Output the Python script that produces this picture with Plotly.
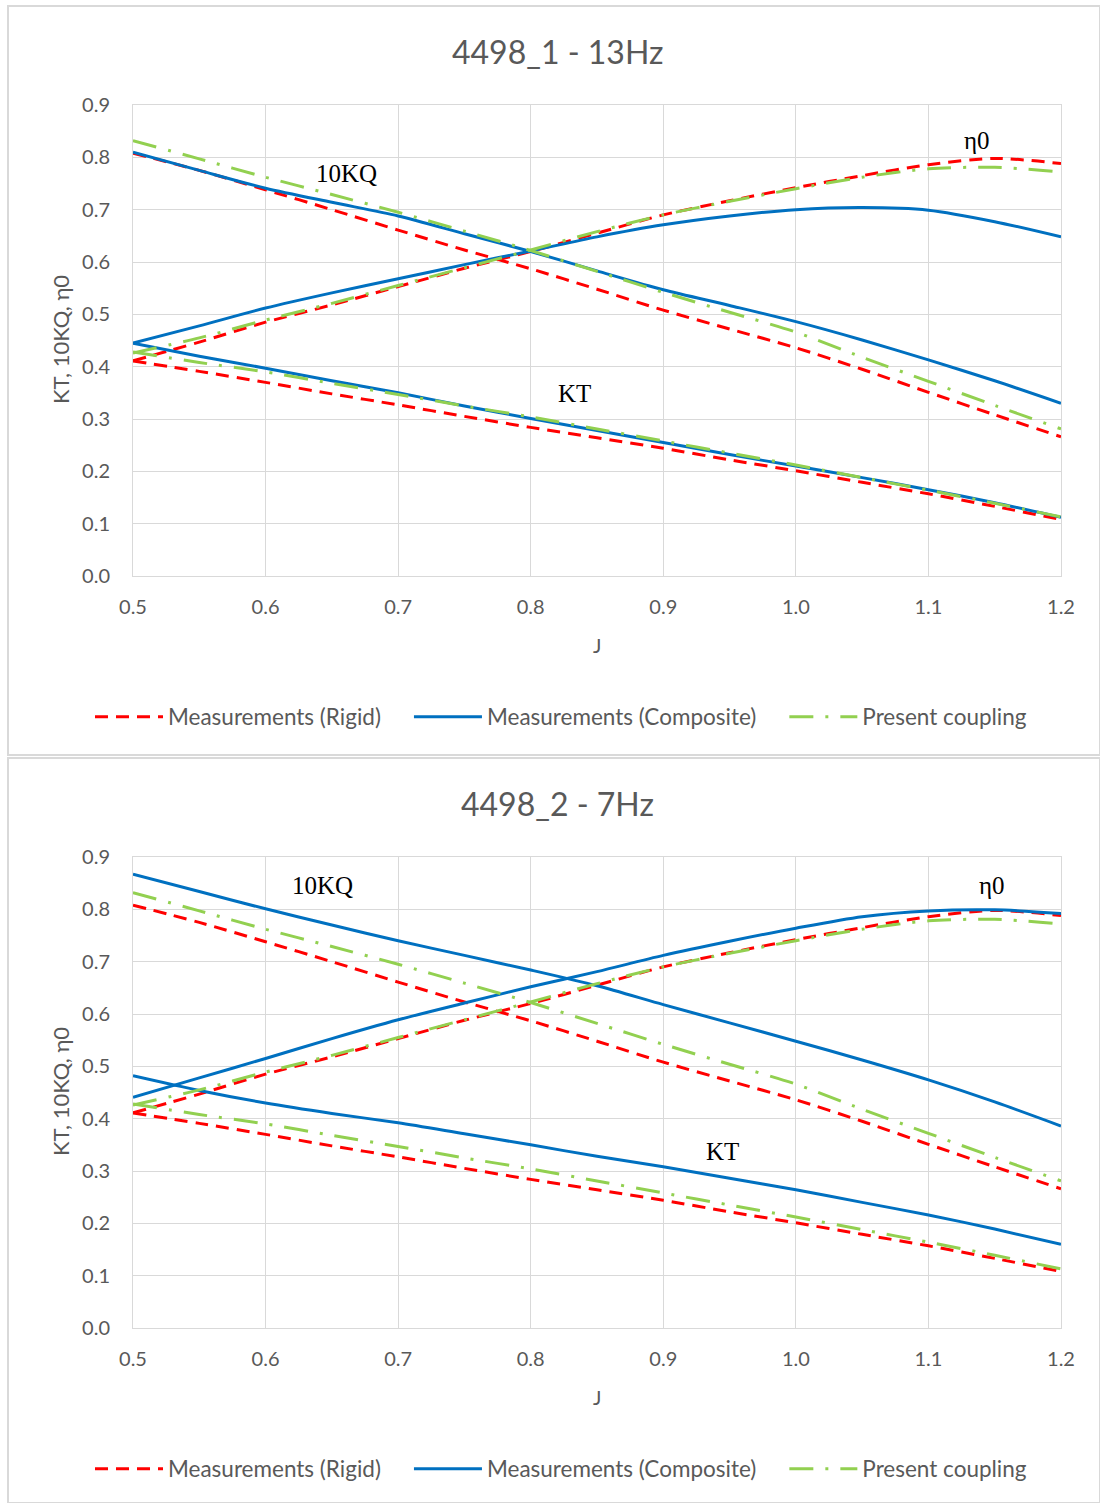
import plotly.graph_objects as go

J = [0.5, 0.55, 0.6, 0.65, 0.7, 0.75, 0.8, 0.85, 0.9, 0.95, 1.0, 1.05, 1.1, 1.15, 1.2]

# Measurements (Rigid) - same in both charts
rigid_10kq = [0.808, 0.775, 0.738, 0.700, 0.661, 0.623, 0.587, 0.548, 0.508, 0.472, 0.436, 0.395, 0.351, 0.308, 0.266]
rigid_eta = [0.411, 0.447, 0.485, 0.518, 0.553, 0.588, 0.620, 0.655, 0.690, 0.717, 0.742, 0.765, 0.786, 0.798, 0.788]
rigid_kt = [0.411, 0.391, 0.370, 0.348, 0.327, 0.305, 0.284, 0.264, 0.244, 0.222, 0.201, 0.179, 0.157, 0.133, 0.108]

# Present coupling - same in both charts
pc_10kq = [0.832, 0.797, 0.762, 0.729, 0.695, 0.659, 0.622, 0.582, 0.542, 0.504, 0.466, 0.418, 0.372, 0.326, 0.281]
pc_eta = [0.426, 0.455, 0.489, 0.521, 0.555, 0.589, 0.623, 0.658, 0.690, 0.716, 0.740, 0.762, 0.778, 0.781, 0.772]
pc_kt = [0.428, 0.408, 0.390, 0.368, 0.347, 0.325, 0.304, 0.281, 0.258, 0.235, 0.212, 0.188, 0.164, 0.139, 0.113]

# Measurements (Composite) - chart 1 (13Hz)
c1_10kq = [0.810, 0.775, 0.741, 0.714, 0.688, 0.654, 0.620, 0.583, 0.547, 0.517, 0.486, 0.451, 0.413, 0.373, 0.330]
c1_eta = [0.445, 0.478, 0.512, 0.541, 0.568, 0.595, 0.621, 0.648, 0.671, 0.688, 0.700, 0.704, 0.699, 0.677, 0.648]
c1_kt = [0.445, 0.420, 0.397, 0.373, 0.350, 0.325, 0.301, 0.278, 0.255, 0.232, 0.210, 0.188, 0.165, 0.140, 0.112]

# Measurements (Composite) - chart 2 (7Hz)
c2_10kq = [0.867, 0.834, 0.801, 0.770, 0.740, 0.712, 0.684, 0.654, 0.618, 0.583, 0.548, 0.512, 0.474, 0.432, 0.386]
c2_eta = [0.441, 0.478, 0.515, 0.553, 0.589, 0.621, 0.652, 0.681, 0.712, 0.739, 0.764, 0.786, 0.797, 0.799, 0.792]
c2_kt = [0.482, 0.454, 0.430, 0.410, 0.392, 0.371, 0.350, 0.328, 0.308, 0.286, 0.264, 0.240, 0.216, 0.189, 0.160]

titles = ["4498_1 - 13Hz", "4498_2 - 7Hz"]
series_names = ["Measurements (Rigid)", "Measurements (Composite)", "Present coupling"]
x_ticks = [0.5, 0.6, 0.7, 0.8, 0.9, 1.0, 1.1, 1.2]
y_ticks = [0.0, 0.1, 0.2, 0.3, 0.4, 0.5, 0.6, 0.7, 0.8, 0.9]

# curve label positions (J, value)
labels1 = [("10KQ", 0.661, 0.770), ("η0", 1.137, 0.833), ("KT", 0.833, 0.348)]
labels2 = [("10KQ", 0.643, 0.845), ("η0", 1.148, 0.845), ("KT", 0.945, 0.338)]

W, H = 1100, 1503
RED = "#FF0000"
BLUE = "#0070C0"
GREEN = "#92D050"
GRID = "#D9D9D9"
TXT = "#595959"
FONT = "Lato, Open Sans, sans-serif"

fig = go.Figure()

styles = [
    dict(color=RED, width=3, dash="13px,8px"),
    dict(color=BLUE, width=3, dash="solid"),
    dict(color=GREEN, width=3, dash="24px,12px,3px,12px"),
]

charts = [
    (c1_10kq, c1_eta, c1_kt, "x", "y", "legend"),
    (c2_10kq, c2_eta, c2_kt, "x2", "y2", "legend2"),
]

PAD = "\u00a0\u00a0\u00a0\u00a0"
for (ck, ce, ct, xa, ya, lg) in charts:
    groups = [
        (rigid_10kq, rigid_eta, rigid_kt),
        (ck, ce, ct),
        (pc_10kq, pc_eta, pc_kt),
    ]
    for gi, grp in enumerate(groups):
        for si, vals in enumerate(grp):
            fig.add_trace(go.Scatter(
                x=J, y=vals, mode="lines", xaxis=xa, yaxis=ya,
                line=dict(shape="spline", smoothing=0.8, **styles[gi]),
                name=series_names[gi] + (PAD if gi < 2 else ""), legend=lg,
                legendgroup=lg + str(gi), showlegend=(si == 0),
            ))

def px_x(p):
    return p / W

def px_y(p):
    return 1 - p / H

x_dom = [px_x(133), px_x(1061)]
top_dom = [px_y(576), px_y(105)]
bot_dom = [px_y(1328), px_y(857)]

ax_common = dict(
    range=[0.5, 1.2], tickvals=x_ticks, tickformat=".1f",
    showgrid=True, gridcolor=GRID, gridwidth=1,
    showline=True, linecolor=GRID, linewidth=1, mirror=True,
    zeroline=False, ticks="", tickfont=dict(family=FONT, size=20, color=TXT),
    ticklabelstandoff=13, automargin=False,
)
ay_common = dict(
    range=[0, 0.9], tickvals=y_ticks, tickformat=".1f",
    showgrid=True, gridcolor=GRID, gridwidth=1,
    showline=True, linecolor=GRID, linewidth=1, mirror=True,
    zeroline=False, ticks="", tickfont=dict(family=FONT, size=20, color=TXT),
    ticklabelstandoff=18, automargin=False,
)

annotations = []
shapes = []
for i, (dom, title, labels, ypix) in enumerate([
    (top_dom, titles[0], labels1, (6, 755)),
    (bot_dom, titles[1], labels2, (758, 1503)),
]):
    xa = "x" if i == 0 else "x2"
    ya = "y" if i == 0 else "y2"
    base = 0 if i == 0 else 752
    annotations.append(dict(text=title, x=px_x(557), y=px_y(51 + base), xref="paper", yref="paper",
                            showarrow=False, xanchor="center", yanchor="middle",
                            font=dict(family=FONT, size=32, color=TXT)))
    annotations.append(dict(text="J", x=px_x(597), y=px_y(645 + base), xref="paper", yref="paper",
                            showarrow=False, xanchor="center", yanchor="middle",
                            font=dict(family=FONT, size=20, color=TXT)))
    annotations.append(dict(text="KT, 10KQ, η0", x=px_x(60), y=px_y(340 + base), xref="paper", yref="paper",
                            showarrow=False, xanchor="center", yanchor="middle", textangle=-90,
                            font=dict(family=FONT, size=22, color=TXT)))
    for (t, lx, ly) in labels:
        annotations.append(dict(text=t, x=lx, y=ly, xref=xa, yref=ya, showarrow=False,
                                xanchor="center", yanchor="middle",
                                font=dict(family="Liberation Serif, Times New Roman, serif", size=25, color="#000000")))
    shapes.append(dict(type="rect", xref="paper", yref="paper",
                       x0=px_x(8), x1=px_x(1100), y0=px_y(ypix[1]), y1=px_y(ypix[0]),
                       line=dict(color=GRID, width=2), fillcolor="rgba(0,0,0,0)", layer="below"))

legend_common = dict(orientation="h", xanchor="center", x=px_x(561), yanchor="middle",
                     font=dict(family=FONT, size=22.5, color=TXT), bgcolor="rgba(0,0,0,0)",
                     itemwidth=68, tracegroupgap=0)

fig.update_layout(
    width=W, height=H, autosize=False,
    margin=dict(l=0, r=0, t=0, b=0, pad=0, autoexpand=False),
    paper_bgcolor="white", plot_bgcolor="white",
    xaxis=dict(domain=x_dom, anchor="y", **ax_common),
    yaxis=dict(domain=top_dom, anchor="x", **ay_common),
    xaxis2=dict(domain=x_dom, anchor="y2", **ax_common),
    yaxis2=dict(domain=bot_dom, anchor="x2", **ay_common),
    legend=dict(y=px_y(717), **legend_common),
    legend2=dict(y=px_y(1469), **legend_common),
    annotations=annotations, shapes=shapes,
)

fig.write_html(
    "out.html",
    post_script="document.body.style.margin='0';document.body.style.padding='0';"
                "document.body.style.overflow='hidden';document.documentElement.style.overflow='hidden';",
)
